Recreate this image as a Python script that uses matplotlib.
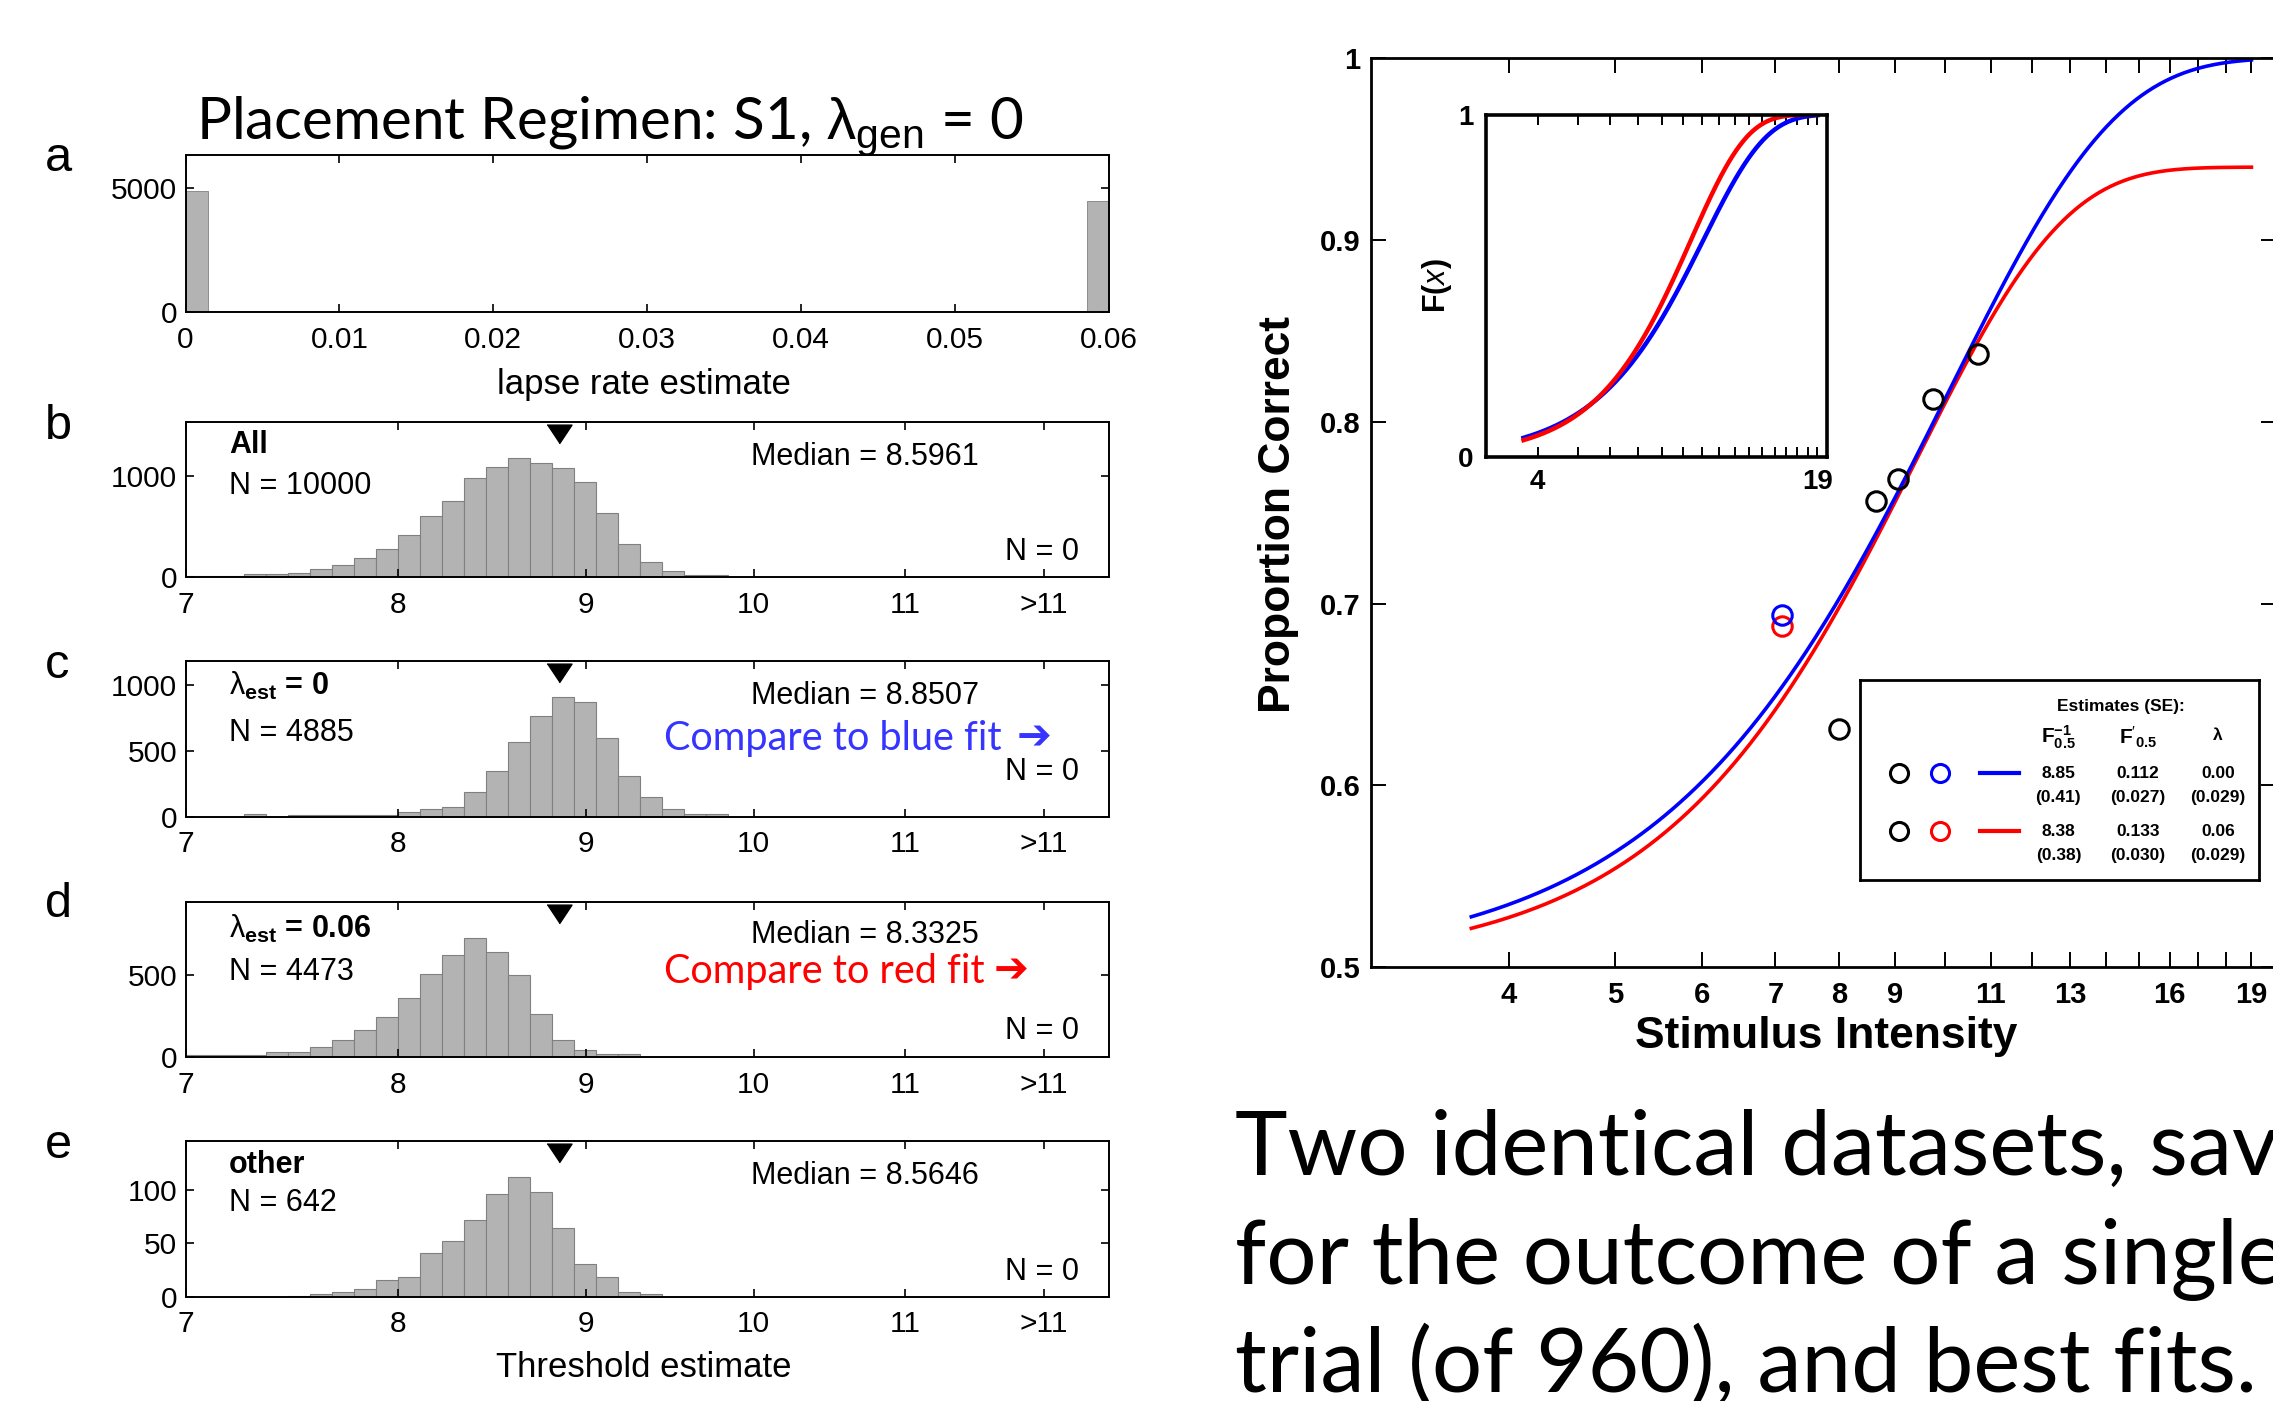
import numpy as np
import matplotlib
matplotlib.use('Agg')
import matplotlib.pyplot as plt
import matplotlib.transforms as mtransforms
from matplotlib import font_manager

# ---------------- data ----------------

# panel a: lapse rate estimates, 42 equal bins between 0 and 0.06
lapse_range = (0.0, 0.06)
lapse_counts = [4885,
                16, 14, 17, 15, 18, 16, 15, 17, 14, 16,
                18, 15, 16, 17, 15, 14, 16, 18, 17, 15,
                16, 14, 17, 16, 15, 18, 16, 15, 17, 14,
                16, 15, 17, 16, 18, 15, 16, 17, 14, 18,
                4473]

# panels b-e: threshold estimates, bins 0.006 wide in log10 units,
# centred on 10**(0.006*k)
thresh_bin_k = np.arange(141, 166)
counts_lam0 = [0, 0, 0, 18, 0, 15, 15, 15, 15, 15, 38, 58, 76, 185, 349,
               570, 767, 911, 873, 600, 311, 147, 58, 23, 23]
counts_lam06 = [14, 14, 14, 14, 30, 30, 61, 105, 164, 249, 364, 510, 626, 729, 644,
                500, 263, 105, 43, 18, 18, 0, 0, 0, 0]
counts_other = [0, 0, 0, 0, 0, 1, 2, 4, 7, 16, 18, 41, 52, 72, 96,
                112, 98, 64, 31, 18, 4, 2, 0, 0, 0]
counts_all = list(np.add(np.add(counts_lam0, counts_lam06), counts_other))

panel_letters = ['b', 'c', 'd', 'e']
panel_counts = [counts_all, counts_lam0, counts_lam06, counts_other]
panel_names = ['All', r'$\mathrm{\lambda}_{\mathbf{est}}$ = 0', r'$\mathrm{\lambda}_{\mathbf{est}}$ = 0.06', 'other']
panel_n = [10000, 4885, 4473, 642]
panel_median = ['8.5961', '8.8507', '8.3325', '8.5646']
panel_yticks = [[0, 1000], [0, 500, 1000], [0, 500], [0, 50, 100]]
true_threshold = 8.85

thresh_ticks = [7, 8, 9, 10, 11, 12]
thresh_ticklabels = ['7', '8', '9', '10', '11', '>11']

# psychometric data: 6 stimulus levels, 160 trials each (960 total)
stim_levels = [7.1, 8.0, 8.65, 9.05, 9.75, 10.7]
trials_per_level = 160
correct_blue = [111, 101, 121, 123, 130, 134]
correct_red = [110, 101, 121, 123, 130, 134]
guess_rate = 0.5

# fitted Weibull parameters: threshold F^-1(0.5), slope F'(0.5), lapse rate
fit_blue = (8.85, 0.112, 0.00)
fit_red = (8.38, 0.133, 0.06)
se_blue = ('0.41', '0.027', '0.029')
se_red = ('0.38', '0.030', '0.029')

stim_ticks = list(range(4, 20))
stim_labelled = [4, 5, 6, 7, 8, 9, 11, 13, 16, 19]

# ---------------- fonts ----------------
installed = {f.name for f in font_manager.fontManager.ttflist}
ARIAL = ['Liberation Sans', 'DejaVu Sans']
CALIBRI = ['Lato', 'DejaVu Sans']
if 'Liberation Sans Narrow' in installed:
    NARROW = ['Liberation Sans Narrow', 'Liberation Sans', 'DejaVu Sans']
    narrow_scale = 1.0
else:
    NARROW = ARIAL
    narrow_scale = 0.83

plt.rcParams['font.family'] = ARIAL
plt.rcParams['mathtext.fontset'] = 'custom'
plt.rcParams['mathtext.rm'] = 'Liberation Sans'
plt.rcParams['mathtext.it'] = 'Liberation Sans:italic'
plt.rcParams['mathtext.bf'] = 'Liberation Sans:bold'
plt.rcParams['mathtext.sf'] = 'Liberation Sans'

W, H = 1568.0, 966.0


def rect(left, top, right, bottom):
    return [left / W, 1 - bottom / H, (right - left) / W, (bottom - top) / H]


def weibull_F(x, thr, slope):
    beta = 2 * thr * slope / np.log(2)
    alpha = thr / np.log(2) ** (1 / beta)
    return 1 - np.exp(-(x / alpha) ** beta)


fig = plt.figure(figsize=(22.73, 14.01), dpi=100)

BAR = '#b3b3b3'
BAR_EDGE = '#808080'


def style_hist(ax):
    ax.tick_params(direction='in', top=True, right=True, length=6, width=1.2,
                   labelsize=21.5, pad=6)
    ax.tick_params(axis='x', pad=10)
    ax.tick_params(which='minor', length=0)
    for s in ax.spines.values():
        s.set_linewidth(1.4)


# ---- panel a ----
ax_a = fig.add_axes(rect(128, 107, 765, 215))
edges = np.linspace(lapse_range[0], lapse_range[1], len(lapse_counts) + 1)
ax_a.bar(edges[:-1], lapse_counts, width=np.diff(edges), align='edge',
         color=BAR, edgecolor=BAR_EDGE, linewidth=0.6)
ax_a.set_xlim(lapse_range)
ax_a.set_ylim(0, 1.3 * max(lapse_counts))
ax_a.set_xticks([0, 0.01, 0.02, 0.03, 0.04, 0.05, 0.06])
ax_a.set_xticklabels(['0', '0.01', '0.02', '0.03', '0.04', '0.05', '0.06'])
ax_a.set_yticks([0, 5000])
style_hist(ax_a)
fig.text(444 / W, 1 - 265 / H, 'lapse rate estimate', fontsize=25, ha='center', va='center')
fig.text(31 / W, 1 - 109 / H, 'a', fontsize=35, ha='left', va='center')
fig.text(135 / W, 1 - 96 / H, r'Placement Regimen: S1, $\mathrm{\lambda}_{\mathrm{gen}}$ = 0',
         fontsize=42, family=CALIBRI, ha='left', va='baseline')

# ---- panels b-e ----
tops = [291, 456, 622, 787]
letter_y = [294, 459, 624, 790]
name_y = [0.85, 0.84, 0.83, 0.85]
n_y = [0.59, 0.54, 0.55, 0.60]
med_y = [0.776, 0.776, 0.785, 0.776]
zero_y = [0.16, 0.29, 0.17, 0.16]

lo = 10 ** (0.006 * (thresh_bin_k - 0.5))
hi = 10 ** (0.006 * (thresh_bin_k + 0.5))

for i in range(4):
    ax = fig.add_axes(rect(128, tops[i], 765, tops[i] + 107))
    ax.bar(lo, panel_counts[i], width=hi - lo, align='edge',
           color=BAR, edgecolor=BAR_EDGE, linewidth=0.8)
    ax.set_xscale('log')
    ax.set_xlim(7, 12.5)
    ax.set_ylim(0, 1.3 * max(panel_counts[i]))
    ax.set_xticks(thresh_ticks)
    ax.set_xticklabels(thresh_ticklabels)
    ax.xaxis.set_minor_locator(matplotlib.ticker.NullLocator())
    ax.set_yticks(panel_yticks[i])
    style_hist(ax)

    # generating threshold marker along the top edge
    trans = mtransforms.blended_transform_factory(ax.transData, ax.transAxes)
    ax.plot([true_threshold], [0.925], transform=trans, linestyle='none', color='black',
            marker=[(-1, 0.75), (1, 0.75), (0, -0.75)], markersize=18, clip_on=False)

    ax.text(0.047, name_y[i], panel_names[i], transform=ax.transAxes, fontsize=22,
            fontweight='bold', ha='left', va='center')
    ax.text(0.047, n_y[i], 'N = %d' % panel_n[i], transform=ax.transAxes, fontsize=22,
            ha='left', va='center')
    ax.text(0.612, med_y[i], 'Median = ' + panel_median[i], transform=ax.transAxes,
            fontsize=22, ha='left', va='center')
    ax.text(0.887, zero_y[i], 'N = 0', transform=ax.transAxes, fontsize=22,
            ha='left', va='center')
    fig.text(31 / W, 1 - letter_y[i] / H, panel_letters[i], fontsize=35, ha='left', va='center')

    if i in (1, 2):
        col = '#3535ff' if i == 1 else '#ff0000'
        words = 'Compare to blue fit' if i == 1 else 'Compare to red fit'
        yy = 0.5 if i == 1 else 0.55
        ax.text(0.518, yy, words, transform=ax.transAxes,
                fontsize=28.5, family=CALIBRI, color=col, ha='left', va='center')
        ax.text(0.9 if i == 1 else 0.875, yy + 0.01, '\u2794', transform=ax.transAxes,
                fontsize=30, family=['DejaVu Sans'], fontweight='bold', color=col,
                ha='left', va='center')

fig.text(444 / W, 1 - 943 / H, 'Threshold estimate', fontsize=25, ha='center', va='center')

# ---- psychometric functions ----
ax_p = fig.add_axes(rect(946, 40, 1570, 667))
xs = np.geomspace(3.7, 19, 400)
for (thr, slope, lam), col in [(fit_red, '#ff0000'), (fit_blue, '#0000ff')]:
    ax_p.plot(xs, guess_rate + (1 - guess_rate - lam) * weibull_F(xs, thr, slope),
              color=col, linewidth=2.6)

pc_blue = np.array(correct_blue) / trials_per_level
pc_red = np.array(correct_red) / trials_per_level
same = pc_blue == pc_red
stim = np.array(stim_levels)
ax_p.plot(stim[same], pc_blue[same], 'o', mfc='none', mec='black', ms=14, mew=2.2)
ax_p.plot(stim[~same], pc_red[~same], 'o', mfc='none', mec='#ff0000', ms=14, mew=2.2)
ax_p.plot(stim[~same], pc_blue[~same], 'o', mfc='none', mec='#0000ff', ms=14, mew=2.2)

ax_p.set_xscale('log')
ax_p.set_xlim(3, 20)
ax_p.set_ylim(0.5, 1)
ax_p.set_xticks(stim_ticks)
ax_p.set_xticklabels([str(t) if t in stim_labelled else '' for t in stim_ticks])
ax_p.xaxis.set_minor_locator(matplotlib.ticker.NullLocator())
ax_p.set_yticks([0.5, 0.6, 0.7, 0.8, 0.9, 1.0])
ax_p.set_yticklabels(['0.5', '0.6', '0.7', '0.8', '0.9', '1'])
ax_p.tick_params(direction='in', top=True, right=True, length=11, width=1.4,
                 labelsize=21, pad=8)
ax_p.tick_params(axis='x', pad=10)
for lab in ax_p.get_xticklabels() + ax_p.get_yticklabels():
    lab.set_fontweight('bold')
for s in ax_p.spines.values():
    s.set_linewidth(2.0)

fig.text(882 / W, 1 - 355 / H, 'Proportion Correct', rotation=90, family=NARROW,
         fontsize=38.5 * narrow_scale, fontweight='bold', ha='center', va='center')
fig.text(1260 / W, 1 - 715 / H, 'Stimulus Intensity', family=NARROW,
         fontsize=38.5 * narrow_scale, fontweight='bold', ha='center', va='center')

# ---- inset: underlying F(x) ----
ax_in = fig.add_axes(rect(1025, 79, 1260, 315))
for (thr, slope, lam), col in [(fit_blue, '#0000ff'), (fit_red, '#ff0000')]:
    ax_in.plot(xs, weibull_F(xs, thr, slope), color=col, linewidth=3.2)
ax_in.set_xscale('log')
ax_in.set_xlim(3, 20)
ax_in.set_ylim(0, 1)
ax_in.set_xticks(stim_ticks)
ax_in.set_xticklabels(['4' if t == 4 else '19' if t == 19 else '' for t in stim_ticks])
ax_in.xaxis.set_minor_locator(matplotlib.ticker.NullLocator())
ax_in.set_yticks([0, 1])
ax_in.set_yticklabels(['0', '1'])
ax_in.tick_params(direction='in', top=True, right=False, length=7, width=1.4,
                  labelsize=20, pad=9)
for lab in ax_in.get_xticklabels() + ax_in.get_yticklabels():
    lab.set_fontweight('bold')
for s in ax_in.spines.values():
    s.set_linewidth(2.6)
ax_in.set_ylabel(r'F($\mathit{x}$)', fontsize=22, fontweight='bold')
ax_in.yaxis.set_label_coords(-0.094, 0.5)

# ---- estimates table ----
ax_t = fig.add_axes(rect(1283, 469, 1558, 607))
ax_t.set_xlim(0, 1)
ax_t.set_ylim(0, 1)
ax_t.set_xticks([])
ax_t.set_yticks([])
for s in ax_t.spines.values():
    s.set_linewidth(2.0)
tk = dict(transform=ax_t.transAxes, fontsize=12.5, fontweight='bold', ha='center', va='center')
ax_t.text(0.655, 0.87, 'Estimates (SE):', **tk)
hk = dict(tk, fontsize=15)
ax_t.text(0.498, 0.715, r'$\mathbf{F}^{\mathbf{-1}}_{\mathbf{0.5}}$', **hk)
ax_t.text(0.698, 0.715, r"$\mathbf{F}'_{\mathbf{0.5}}$", **hk)
ax_t.text(0.898, 0.73, r'$\mathbf{\lambda}$', **tk)
cols = [0.498, 0.698, 0.898]
for (fit, se, col, yv, ys) in [(fit_blue, se_blue, '#0000ff', 0.536, 0.413),
                               (fit_red, se_red, '#ff0000', 0.246, 0.123)]:
    ax_t.plot([0.098], [yv], 'o', mfc='none', mec='black', ms=13, mew=2.2)
    ax_t.plot([0.2], [yv], 'o', mfc='none', mec=col, ms=13, mew=2.2)
    ax_t.plot([0.302, 0.4], [yv, yv], color=col, linewidth=3)
    vals = ['%.2f' % fit[0], '%.3f' % fit[1], '%.2f' % fit[2]]
    for c, v, e in zip(cols, vals, se):
        ax_t.text(c, yv, v, **tk)
        ax_t.text(c, ys, '(' + e + ')', **tk)

# ---- caption ----
caption = ['Two identical datasets, save', 'for the outcome of a single',
           'trial (of 960), and best fits.']
for line, yb in zip(caption, [810, 885, 960]):
    fig.text(852 / W, 1 - yb / H, line, fontsize=64, family=CALIBRI, ha='left', va='baseline')

fig.savefig('out.png', dpi=100, facecolor='white')
